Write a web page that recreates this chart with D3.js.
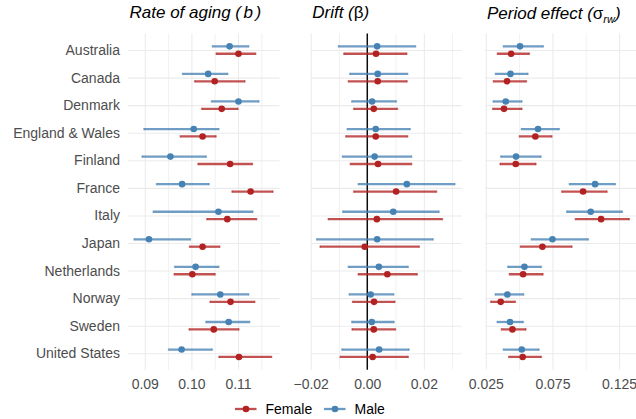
<!DOCTYPE html>
<meta charset="utf-8">
<head>
<script src="https://cdnjs.cloudflare.com/ajax/libs/d3/7.8.5/d3.min.js"></script>
<style>
body { margin:0; background:#fff; }
svg { font-family: "Liberation Sans", Arial, sans-serif; }
.tick text { fill:#4d4d4d; }
</style>
</head>
<body>
<div id="chart"></div>
<script>

// countries, top to bottom
var countries = ['Australia', 'Canada', 'Denmark', 'England & Wales', 'Finland', 'France',
                 'Italy', 'Japan', 'Netherlands', 'Norway', 'Sweden', 'United States'];

// each entry: [lower, estimate, upper]
var agingMale = [[0.1045,0.1082,0.1123],[0.0981,0.1036,0.1078],[0.1043,0.1101,0.1145],[0.0898,0.1005,0.1059],
                 [0.0894,0.0955,0.1032],[0.0925,0.0980,0.1038],[0.0918,0.1058,0.1132],[0.0877,0.0909,0.0998],
                 [0.0964,0.1009,0.1059],[0.1001,0.1062,0.1123],[0.1031,0.1080,0.1125],[0.0951,0.0979,0.1045]];
var agingFemale = [[0.1053,0.1101,0.1138],[0.1007,0.1050,0.1115],[0.1022,0.1065,0.1100],[0.0976,0.1024,0.1053],
                   [0.1014,0.1083,0.1131],[0.1087,0.1127,0.1175],[0.1033,0.1077,0.1140],[0.0996,0.1024,0.1061],
                   [0.0963,0.1002,0.1051],[0.1040,0.1084,0.1136],[0.0995,0.1048,0.1102],[0.1059,0.1102,0.1172]];

var driftMale = [[-0.0102,0.0035,0.0171],[-0.0062,0.0037,0.0143],[-0.0055,0.0017,0.0103],[-0.0071,0.0030,0.0152],
                 [-0.0088,0.0026,0.0157],[-0.0032,0.0140,0.0310],[-0.0087,0.0092,0.0254],[-0.0179,0.0035,0.0233],
                 [-0.0067,0.0041,0.0145],[-0.0064,0.0012,0.0094],[-0.0055,0.0016,0.0095],[-0.0090,0.0042,0.0148]];
var driftFemale = [[-0.0083,0.0031,0.0140],[-0.0067,0.0037,0.0141],[-0.0048,0.0023,0.0107],[-0.0076,0.0030,0.0143],
                   [-0.0060,0.0038,0.0157],[-0.0048,0.0102,0.0245],[-0.0138,0.0034,0.0266],[-0.0167,-0.0009,0.0184],
                   [-0.0032,0.0071,0.0177],[-0.0052,0.0024,0.0098],[-0.0054,0.0023,0.0100],[-0.0096,0.0019,0.0145]];

var periodMale = [[0.0382,0.0507,0.0682],[0.0322,0.0435,0.0567],[0.0305,0.0400,0.0522],[0.0517,0.0642,0.0802],
                  [0.0362,0.0477,0.0665],[0.0877,0.1070,0.1222],[0.0857,0.1037,0.1275],[0.0592,0.0750,0.1020],
                  [0.0415,0.0540,0.0667],[0.0320,0.0412,0.0535],[0.0335,0.0432,0.0532],[0.0382,0.0520,0.0650]];
var periodFemale = [[0.0337,0.0440,0.0577],[0.0307,0.0410,0.0555],[0.0302,0.0387,0.0522],[0.0502,0.0622,0.0747],
                    [0.0357,0.0475,0.0627],[0.0820,0.0980,0.1160],[0.0922,0.1115,0.1327],[0.0510,0.0675,0.0897],
                    [0.0427,0.0530,0.0680],[0.0287,0.0362,0.0472],[0.0367,0.0450,0.0552],[0.0422,0.0527,0.0667]];

var sexes = ['Female', 'Male'];
var sexColors = {Female: '#B22222', Male: '#4682B4'};

var width = 636;
var height = 419;
var panelTop = 33.5, panelBottom = 369.8;

var panels = [
  {x0: 128, x1: 279.5, domain: [0.0864, 0.1189], ticks: [0.09, 0.10, 0.11], minor: [0.095, 0.105, 0.115],
   fmt: d3.format('.2f'), male: agingMale, female: agingFemale, zero: false, titleY: 17.5,
   title: [{t: 'Rate of aging ('}, {t: 'b', dx: 2.5}, {t: ')', dx: 2.5}]},
  {x0: 310.7, x1: 462, domain: [-0.02, 0.0335], ticks: [-0.02, 0, 0.02], minor: [-0.01, 0.01, 0.03],
   fmt: d3.format('.2f'), male: driftMale, female: driftFemale, zero: true, titleY: 18,
   title: [{t: 'Drift ('}, {t: 'β', up: true}, {t: ')'}]},
  {x0: 485.5, x1: 636, domain: [0.0248, 0.1377], ticks: [0.025, 0.075, 0.125], minor: [0.05, 0.10],
   fmt: d3.format('.3f'), male: periodMale, female: periodFemale, zero: false, titleY: 19,
   title: [{t: 'Period effect ('}, {t: 'σ', up: true}, {t: 'rw', sub: true}, {t: ')', dy: -3.5}]}
];

var svg = d3.select('#chart').append('svg')
  .attr('width', width)
  .attr('height', height);

var y = d3.scalePoint().domain(countries).range([panelTop, panelBottom]).padding(0.6);
var dodge = {Male: -3.7, Female: 3.7};

panels.forEach(function(p, pi){
  var x = d3.scaleLinear().domain(p.domain).range([p.x0, p.x1]);
  var g = svg.append('g');

  // minor vertical grid
  g.append('g')
    .attr('transform', 'translate(0,' + panelBottom + ')')
    .call(d3.axisBottom(x).tickValues(p.minor).tickSize(-(panelBottom - panelTop)).tickFormat(''))
    .call(function(a){ a.select('.domain').remove(); a.selectAll('line').attr('stroke', '#ededed').attr('stroke-width', 0.8); });

  // major vertical grid + labels
  g.append('g')
    .attr('transform', 'translate(0,' + panelBottom + ')')
    .call(d3.axisBottom(x).tickValues(p.ticks).tickSize(-(panelBottom - panelTop)).tickPadding(9).tickFormat(p.fmt))
    .call(function(a){
      a.select('.domain').remove();
      a.selectAll('line').attr('stroke', '#ebebeb').attr('stroke-width', 1.1);
      a.selectAll('text').attr('font-size', 14).attr('fill', '#4d4d4d');
    });

  // horizontal grid
  g.append('g')
    .attr('transform', 'translate(' + p.x0 + ',0)')
    .call(d3.axisLeft(y).tickSize(-(p.x1 - p.x0)).tickFormat(pi === 0 ? null : '').tickPadding(8))
    .call(function(a){
      a.select('.domain').remove();
      a.selectAll('line').attr('stroke', '#ebebeb').attr('stroke-width', 1.1);
      a.selectAll('text').attr('font-size', 14).attr('fill', '#4d4d4d');
    });

  if (p.zero) {
    g.append('line')
      .attr('x1', x(0)).attr('x2', x(0))
      .attr('y1', panelTop).attr('y2', panelBottom)
      .attr('stroke', '#000').attr('stroke-width', 1.4);
  }

  // estimates with intervals
  [['Male', p.male], ['Female', p.female]].forEach(function(s){
    var sex = s[0], col = sexColors[sex];
    var rows = g.selectAll('g.' + sex).data(s[1]).enter().append('g')
      .attr('class', sex)
      .attr('transform', function(d, i){ return 'translate(0,' + (y(countries[i]) + dodge[sex]) + ')'; });
    rows.append('line')
      .attr('x1', function(d){ return x(d[0]); })
      .attr('x2', function(d){ return x(d[2]); })
      .attr('stroke', col).attr('stroke-width', 2.3).attr('stroke-opacity', 0.78);
    rows.selectAll('rect').data(function(d){ return [d[0], d[2]]; }).enter().append('rect')
      .attr('x', function(v){ return x(v) - 0.7; })
      .attr('y', -1.15).attr('width', 1.4).attr('height', 2.3)
      .attr('fill', col).attr('fill-opacity', 0.5);
    rows.append('circle')
      .attr('cx', function(d){ return x(d[1]); })
      .attr('r', 3.3)
      .attr('fill', col);
  });

  // title
  var t = svg.append('text')
    .attr('x', p.x0 + 1.5).attr('y', p.titleY)
    .attr('font-size', 17).attr('fill', '#000');
  p.title.forEach(function(part){
    var ts = t.append('tspan').text(part.t)
      .attr('font-style', part.up ? 'normal' : 'italic');
    if (part.dx) ts.attr('dx', part.dx);
    if (part.sub) ts.attr('font-size', 11).attr('dy', 3.5);
    if (part.dy) ts.attr('dy', part.dy);
  });
});

// legend
var legendX = {Female: 235, Male: 324};
var lg = svg.append('g').attr('transform', 'translate(0,409)');
sexes.forEach(function(s){
  var k = lg.append('g').attr('transform', 'translate(' + legendX[s] + ',0)');
  k.append('line').attr('x1', 0).attr('x2', 21.5)
    .attr('stroke', sexColors[s]).attr('stroke-width', 2.3).attr('stroke-opacity', 0.8);
  k.append('circle').attr('cx', 11).attr('r', 3.3).attr('fill', sexColors[s]);
  k.append('text').attr('x', 30.5).attr('dy', '0.35em')
    .attr('font-size', 14).attr('fill', '#000').text(s);
});

</script>
</body>
